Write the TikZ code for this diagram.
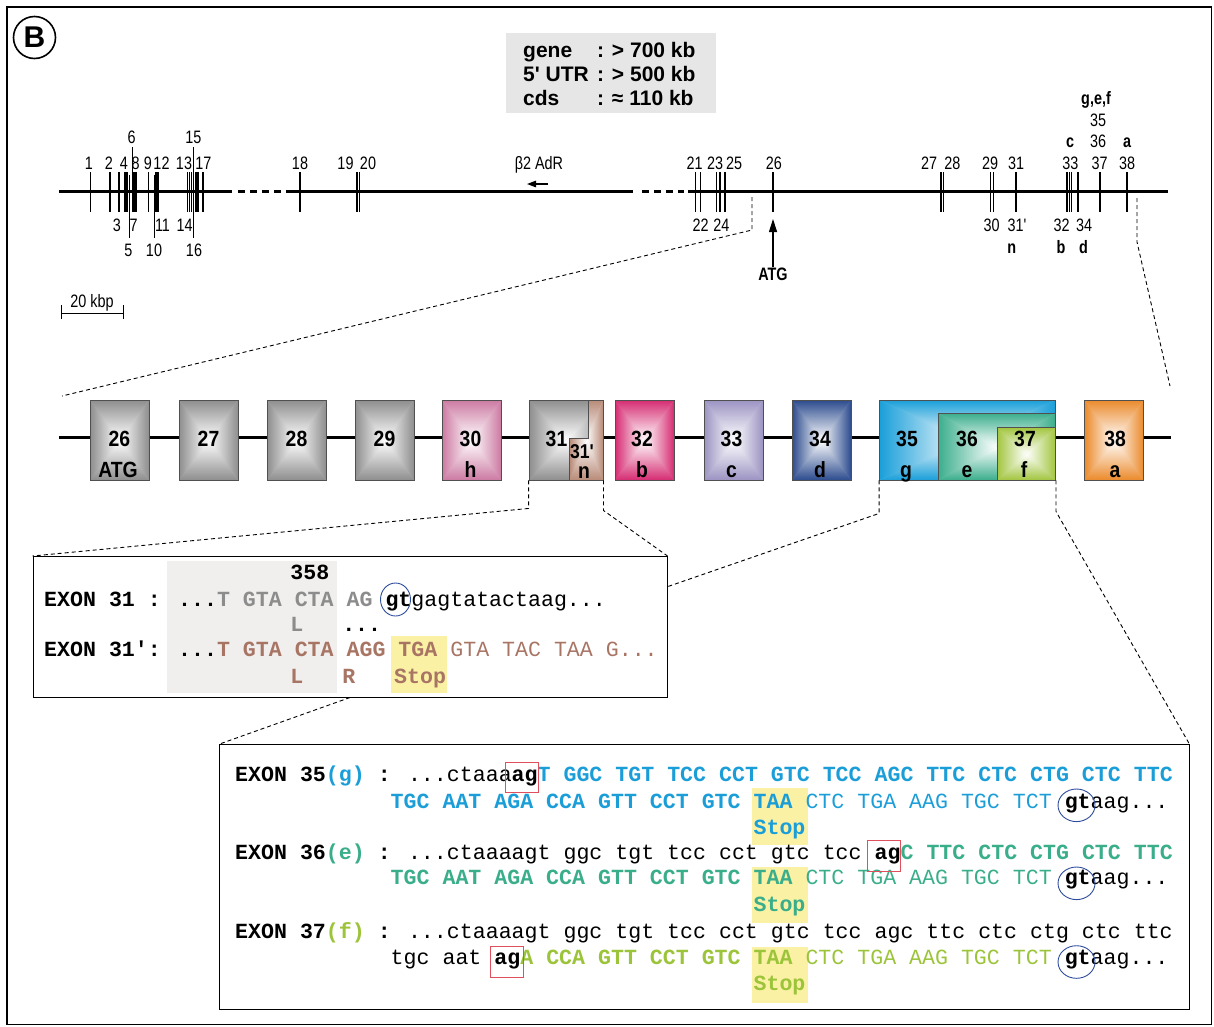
\documentclass[tikz,border=0pt]{standalone}
\usepackage{fontspec}
\setmainfont[Ligatures=TeXOff]{Liberation Sans}
\newfontfamily\labfont[FakeStretch=0.8,Ligatures=TeXOff]{Liberation Sans}
\newfontfamily\boxfont[FakeStretch=0.88,Ligatures=TeXOff]{Liberation Sans}
\newfontfamily\seqfont[Ligatures=TeXOff]{Liberation Mono}
\usetikzlibrary{arrows.meta,calc}
\definecolor{cgray}{HTML}{8E8E8E}
\definecolor{c30}{HTML}{CC7AA2}
\definecolor{c31p}{HTML}{B88B78}
\definecolor{c32}{HTML}{D62C72}
\definecolor{c33}{HTML}{9C93C2}
\definecolor{c34}{HTML}{2C4C8E}
\definecolor{c35}{HTML}{1A9FD9}
\definecolor{c36}{HTML}{3BAE8C}
\definecolor{c37}{HTML}{A2C53F}
\definecolor{c38}{HTML}{EB8A2C}
\definecolor{boxedge}{HTML}{505050}
\definecolor{infogray}{HTML}{E6E6E6}
\definecolor{panelgray}{HTML}{F0EFED}
\definecolor{hlyellow}{HTML}{FAF1A5}
\definecolor{sgray}{HTML}{8C8C8C}
\definecolor{sbrown}{HTML}{A87565}
\definecolor{t35}{HTML}{1B9ED8}
\definecolor{t36}{HTML}{3AAE8A}
\definecolor{t37}{HTML}{9CC43A}
\definecolor{circblue}{HTML}{2E4C9C}
\definecolor{redframe}{HTML}{E0505C}
\tikzset{
 pyr/.style={path picture={
   \fill[#1!55!white] (path picture bounding box.south west) rectangle (path picture bounding box.north east);
   \coordinate (pc) at (path picture bounding box.center);
   \shade[top color=#1, bottom color=white] (path picture bounding box.north west) -- (path picture bounding box.north east) -- (pc) -- cycle;
   \shade[bottom color=#1, top color=white] (path picture bounding box.south west) -- (path picture bounding box.south east) -- (pc) -- cycle;
   \shade[left color=#1, right color=white] (path picture bounding box.north west) -- (path picture bounding box.south west) -- (pc) -- cycle;
   \shade[right color=#1, left color=white] (path picture bounding box.north east) -- (path picture bounding box.south east) -- (pc) -- cycle;
 }},
 exon/.style={draw=boxedge, line width=0.9pt, inner sep=0pt, minimum width=59pt, minimum height=80pt, pyr=#1},
 lbl/.style={font=\labfont\fontsize{18}{18}\selectfont, inner sep=0pt, anchor=base},
 blbl/.style={font=\labfont\bfseries\fontsize{18}{18}\selectfont, inner sep=0pt, anchor=base},
 boxnum/.style={font=\boxfont\bfseries\fontsize{22}{22}\selectfont, inner sep=0pt, anchor=base},
 infotxt/.style={font=\bfseries\fontsize{21}{24}\selectfont, inner sep=0pt, anchor=base west},
 seq/.style={font=\seqfont\fontsize{21.6}{26}\selectfont, inner sep=0pt, anchor=base west},
 zoomline/.style={dash pattern=on 4pt off 3pt, line width=0.9pt},
 tick/.style={line width=1.05pt},
 thintick/.style={line width=0.8pt},
 geneline/.style={line width=3.2pt},
 hl/.style={fill=hlyellow},
 redbox/.style={draw=redframe, line width=1pt},
 bluecirc/.style={draw=circblue, line width=0.9pt},
}
\begin{document}
\begin{tikzpicture}[x=1pt,y=-1pt]
\useasboundingbox (0,0) rectangle (1214,1026);
\draw[line width=1.5pt] (7,7) rectangle (1211.5,1024.5);
\node[circle, draw, line width=1.6pt, minimum size=42pt, inner sep=0pt, font=\bfseries\fontsize{30}{30}\selectfont] (B) at (34.5,37.5) {B};

% info box
\node[fill=infogray, minimum width=210pt, minimum height=80pt, inner sep=0pt] (info) at (611,73.3) {};
\node[infotxt] (i1a) at (523,57.3) {gene};
\node[infotxt] (i1b) at (597,57.3) {: > 700 kb};
\node[infotxt] (i2a) at (523,81.7) {5' UTR};
\node[infotxt] (i2b) at (597,81.7) {: > 500 kb};
\node[infotxt] (i3a) at (523,105) {cds};
\node[infotxt] (i3b) at (597,105) {: ≈ 110 kb};

% gene line
\draw[geneline] (59,191.7) -- (232,191.7);
\draw[geneline, dash pattern=on 7pt off 5pt] (238,191.7) -- (284,191.7);
\draw[geneline] (286,191.7) -- (633,191.7);
\draw[geneline, dash pattern=on 7pt off 5pt] (642,191.7) -- (684,191.7);
\draw[geneline] (688,191.7) -- (1168,191.7);
\foreach \x in {90.7,110,119,125,127,134,136,148.3,156,158,187.3,189.5,191.5,196,198,203,300,357,359.3,695.5,700.7,716.7,720,725,773,941,943.5,990.5,993.5,1016,1067,1069.3,1071.3,1078,1100,1127}
  \draw[tick] (\x,172) -- (\x,212);
\draw[thintick] (132.3,147) -- (132.3,212);
\draw[thintick] (129.3,175) -- (129.3,238);
\draw[thintick] (154,175) -- (154,238);
\draw[thintick] (193.7,147) -- (193.7,238);

\foreach \t/\x in {1/89,2/109,4/124,8/135.7,9/148,12/161.5,13/184,17/203.3,18/300,19/345.5,20/368,21/694.5,23/715,25/734,26/773.8,27/929,28/952.4,29/990,31/1016,33/1070.3,37/1099.7,38/1127}
  \node[lbl, name=lt-\t] at (\x,169.5) {\t};
\foreach \t/\x in {6/131.7,15/193.3}
  \node[lbl, name=lu-\t] at (\x,143) {\t};
\foreach \t/\x in {3/117,7/133.7,11/162.5,14/184.7,22/700.7,24/721.4,30/991.7,32/1061.7,34/1084}
  \node[lbl, name=lb-\t] at (\x,231) {\t};
\node[lbl] (lb-31p) at (1017,231) {31'};
\foreach \t/\x in {5/128.3,10/154,16/194}
  \node[lbl, name=lbb-\t] at (\x,256.7) {\t};
\node[lbl] (l36) at (1098,147.7) {36};
\node[lbl] (l35) at (1098,126.7) {35};
\node[blbl] (lc) at (1070,147.7) {c};
\node[blbl] (la) at (1127,147.7) {a};
\node[blbl] (lgef) at (1096,104) {g,e,f};
\node[blbl] (ln) at (1011.7,253.3) {n};
\node[blbl] (lbx) at (1061,253.3) {b};
\node[blbl] (ld) at (1083.4,253.3) {d};
\node[blbl] (atg) at (773,280) {ATG};
\draw[-{Triangle[length=13pt,width=8pt]}, line width=1.1pt] (atg.north) -- (773,219);
\node[lbl] (adr) at (539,169.5) {β2 AdR};
\coordinate (adr1) at (548,184);
\coordinate (adr2) at (527,184);
\draw[-{Triangle[length=9pt,width=6.5pt]}, line width=1.2pt] (adr1) -- (adr2);

% scale bar
\coordinate (sb1) at (61.7,313);
\coordinate (sb2) at (123.3,313);
\draw[line width=1pt] (sb1) -- (sb2);
\draw[line width=1pt] (61.7,305) -- (61.7,318.5);
\draw[line width=1pt] (123.3,305) -- (123.3,318.5);
\node[lbl] (kbp) at (92,307.5) {20 kbp};

% exon row
\draw[line width=3pt] (59,437.5) -- (1171,437.5);
\node[exon=cgray] (e26) at (119.5,440) {};
\node[exon=cgray] (e27) at (208.5,440) {};
\node[exon=cgray] (e28) at (296.5,440) {};
\node[exon=cgray] (e29) at (384.5,440) {};
\node[exon=c30] (e30) at (471.5,440) {};
\node[exon=cgray, minimum width=74pt] (e31) at (566,440) {};
\path[draw=boxedge, line width=0.9pt, pyr=c31p] (569.5,438.5) -- (588,438.5) -- (588,400) -- (603,400) -- (603,480) -- (569.5,480) -- cycle;
\node[exon=c32] (e32) at (644.5,440) {};
\node[exon=c33] (e33) at (733.5,440) {};
\node[exon=c34] (e34) at (821.5,440) {};
\node[exon=c35, minimum width=176pt] (e35) at (967.5,440) {};
\node[exon=c36, minimum width=117.5pt, minimum height=67pt] (e36) at (996.75,446.5) {};
\node[exon=c37, minimum width=58.5pt, minimum height=52.5pt] (e37) at (1026.25,453.75) {};
\node[exon=c38] (e38) at (1114,440) {};

\node[boxnum] (n26) at (119.5,446) {26};
\node[boxnum] (x26) at (118,477.5) {ATG};
\node[boxnum] (n27) at (208.5,446) {27};
\node[boxnum] (n28) at (296.5,446) {28};
\node[boxnum] (n29) at (384.5,446) {29};
\node[boxnum] (n30) at (470.5,446) {30};
\node[boxnum] (x30) at (470.5,477.5) {h};
\node[boxnum] (n31) at (556.5,446) {31};
\node[boxnum, font=\boxfont\bfseries\fontsize{20}{20}\selectfont] (n31p) at (582,458.5) {31'};
\node[boxnum] (x31p) at (584,478) {n};
\node[boxnum] (n32) at (642,446) {32};
\node[boxnum] (x32) at (642,477.5) {b};
\node[boxnum] (n33) at (731.5,446) {33};
\node[boxnum] (x33) at (731.5,477.5) {c};
\node[boxnum] (n34) at (820,446) {34};
\node[boxnum] (x34) at (820,477.5) {d};
\node[boxnum] (n35) at (907,446) {35};
\node[boxnum] (x35) at (906,477.5) {g};
\node[boxnum] (n36) at (967,446) {36};
\node[boxnum] (x36) at (967,477.5) {e};
\node[boxnum] (n37) at (1025,446) {37};
\node[boxnum] (x37) at (1024,477.5) {f};
\node[boxnum] (n38) at (1115,446) {38};
\node[boxnum] (x38) at (1115,477.5) {a};

% zoom lines gene -> exon row
\coordinate (zl0) at (752,197);
\coordinate (rowL) at (62,396);
\draw[zoomline] (zl0) -- (752,230) -- (rowL);
\coordinate (zr0) at (1137,198);
\coordinate (rowR) at (1170,386);
\draw[zoomline] (zr0) -- (1137,242) -- (rowR);

% exon 31 detail box
\node[draw, line width=1pt, minimum width=634pt, minimum height=140.5pt, inner sep=0pt] (ex31) at (350,626.75) {};
\fill[panelgray] (166.5,560.7) rectangle (336.6,693);
\fill[hl] (390.7,636) rectangle (447,693);
\node[seq] (s358) at ({44+19*12.96},579.5) {\bfseries 358};
\node[seq] (s31a) at (44,606) {\bfseries EXON 31 : ...\textcolor{sgray}{T GTA CTA AG }gt\mdseries gagtatactaag...};
\node[seq] (s31L) at ({44+19*12.96},631) {\bfseries\textcolor{sgray}{L}};
\node[seq] (s31d) at ({44+23*12.96},631) {\bfseries ...};
\node[seq] (s31b) at (44,656) {\bfseries EXON 31': ...\textcolor{sbrown}{T GTA CTA AGG TGA }\mdseries\textcolor{sbrown}{GTA TAC TAA G...}};
\node[seq] (s31c) at ({44+19*12.96},683) {\bfseries\textcolor{sbrown}{L}};
\node[seq] (s31e) at ({44+23*12.96},683) {\bfseries\textcolor{sbrown}{R}};
\node[seq] (s31f) at ({44+27*12.96},683) {\bfseries\textcolor{sbrown}{Stop}};
\draw[bluecirc] (395.5,599.5) ellipse [x radius=15pt, y radius=16.5pt];

% exon 35 detail box
\node[draw, line width=1pt, minimum width=969.5pt, minimum height=264.3pt, inner sep=0pt] (ex35) at (704.25,876.85) {};
\fill[hl] (752,788) rectangle (808,845);
\fill[hl] (752,866.7) rectangle (808,922.7);
\fill[hl] (752,946.7) rectangle (808,1003);
\node[seq] (r1) at (235,781.5) {\bfseries EXON 35\textcolor{t35}{(g)} : \mdseries...ctaaa\bfseries ag\textcolor{t35}{T GGC TGT TCC CCT GTC TCC AGC TTC CTC CTG CTC TTC}};
\node[seq] (r2) at ({235+12*12.96},808) {\bfseries\textcolor{t35}{TGC AAT AGA CCA GTT CCT GTC TAA }\mdseries\textcolor{t35}{CTC TGA AAG TGC TCT }\bfseries gt\mdseries aag...};
\node[seq] (r3) at ({235+40*12.96},834.5) {\bfseries\textcolor{t35}{Stop}};
\node[seq] (r4) at (235,859.5) {\bfseries EXON 36\textcolor{t36}{(e)} : \mdseries...ctaaaagt ggc tgt tcc cct gtc tcc \bfseries ag\textcolor{t36}{C TTC CTC CTG CTC TTC}};
\node[seq] (r5) at ({235+12*12.96},884.5) {\bfseries\textcolor{t36}{TGC AAT AGA CCA GTT CCT GTC TAA }\mdseries\textcolor{t36}{CTC TGA AAG TGC TCT }\bfseries gt\mdseries aag...};
\node[seq] (r6) at ({235+40*12.96},911) {\bfseries\textcolor{t36}{Stop}};
\node[seq] (r7) at (235,938) {\bfseries EXON 37\textcolor{t37}{(f)} : \mdseries...ctaaaagt ggc tgt tcc cct gtc tcc agc ttc ctc ctg ctc ttc};
\node[seq] (r8) at ({235+12*12.96},964.5) {\mdseries tgc aat \bfseries ag\textcolor{t37}{A CCA GTT CCT GTC TAA }\mdseries\textcolor{t37}{CTC TGA AAG TGC TCT }\bfseries gt\mdseries aag...};
\node[seq] (r9) at ({235+40*12.96},990.5) {\bfseries\textcolor{t37}{Stop}};
\draw[redbox] (505.5,762.5) rectangle (538.5,792.5);
\draw[redbox] (867,840.7) rectangle (900.5,871);
\draw[redbox] (490,946.7) rectangle (523.3,977.3);
\draw[bluecirc] (1076.5,805.3) ellipse [x radius=18.5pt, y radius=16.3pt];
\draw[bluecirc] (1076.5,883.3) ellipse [x radius=18.5pt, y radius=16.3pt];
\draw[bluecirc] (1076.5,962) ellipse [x radius=18.5pt, y radius=16.3pt];

% zoom lines exon row -> detail boxes
\coordinate (ex31r) at (666.5,587);
\draw[zoomline] (e31.south west) -- ++(0,28) -- (ex31.north west);
\draw[zoomline] (e31.south east) -- ++(0,30) -- (ex31.north east);
\draw[zoomline] (e35.south west) -- ++(0,33) -- (ex31r);
\draw[zoomline] (e35.south east) -- ++(0,31) -- (ex35.north east);
\draw[zoomline] (ex31.south) -- (ex35.north west);
\end{tikzpicture}
\end{document}
